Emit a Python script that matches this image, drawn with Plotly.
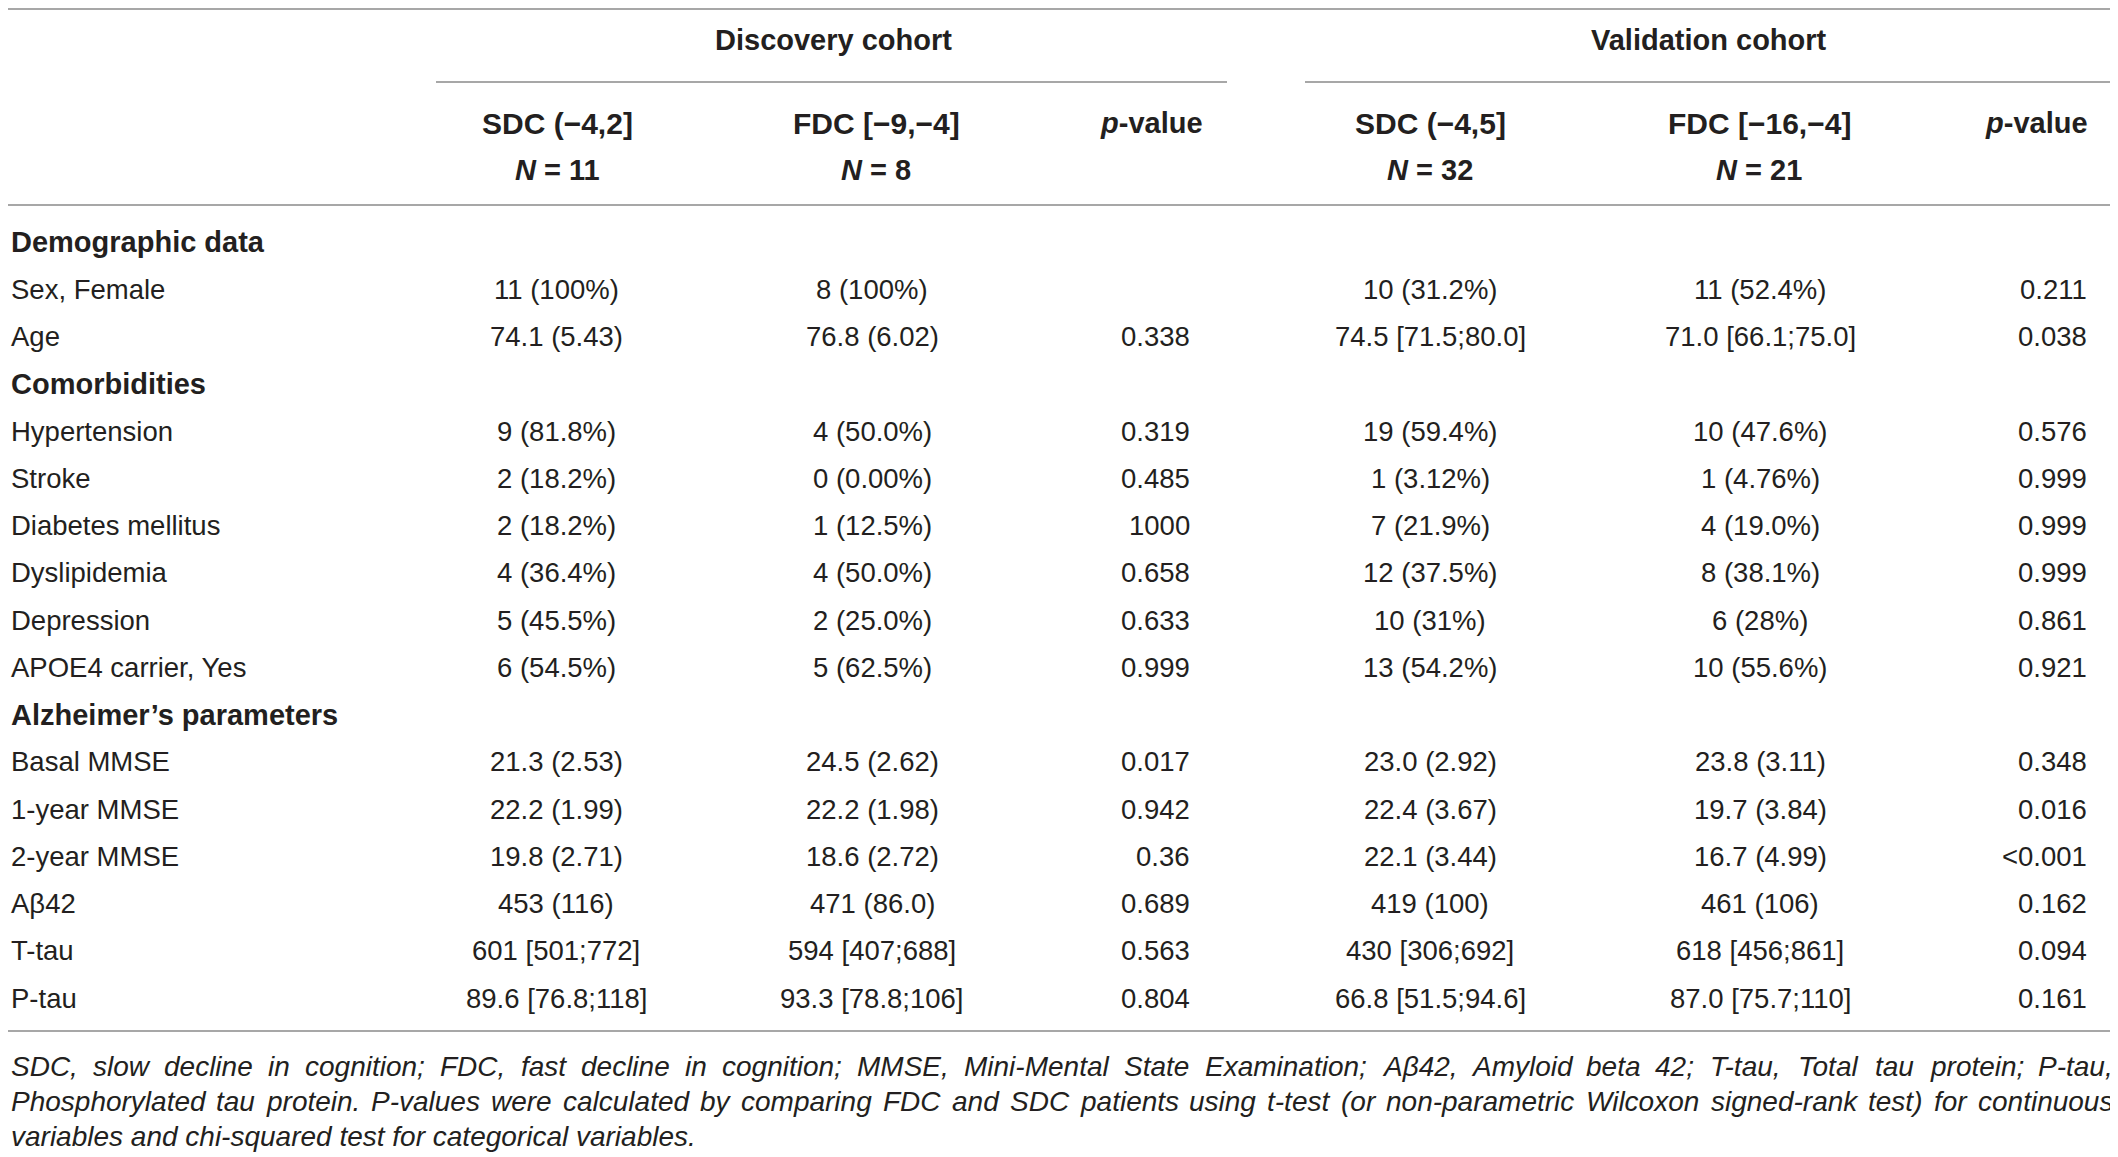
import plotly.graph_objects as go

# ---------------- data ----------------
row_labels = ["Demographic data", "Sex, Female", "Age", "Comorbidities", "Hypertension",
              "Stroke", "Diabetes mellitus", "Dyslipidemia", "Depression",
              "APOE4 carrier, Yes", "Alzheimer’s parameters", "Basal MMSE",
              "1-year MMSE", "2-year MMSE", "Aβ42", "T-tau", "P-tau"]
is_section = [True, False, False, True, False, False, False, False, False, False,
              True, False, False, False, False, False, False]
disc_sdc = ["", "11 (100%)", "74.1 (5.43)", "", "9 (81.8%)", "2 (18.2%)", "2 (18.2%)",
            "4 (36.4%)", "5 (45.5%)", "6 (54.5%)", "", "21.3 (2.53)", "22.2 (1.99)",
            "19.8 (2.71)", "453 (116)", "601 [501;772]", "89.6 [76.8;118]"]
disc_fdc = ["", "8 (100%)", "76.8 (6.02)", "", "4 (50.0%)", "0 (0.00%)", "1 (12.5%)",
            "4 (50.0%)", "2 (25.0%)", "5 (62.5%)", "", "24.5 (2.62)", "22.2 (1.98)",
            "18.6 (2.72)", "471 (86.0)", "594 [407;688]", "93.3 [78.8;106]"]
disc_p = ["", "", "0.338", "", "0.319", "0.485", "1000", "0.658", "0.633", "0.999", "",
          "0.017", "0.942", "0.36", "0.689", "0.563", "0.804"]
val_sdc = ["", "10 (31.2%)", "74.5 [71.5;80.0]", "", "19 (59.4%)", "1 (3.12%)", "7 (21.9%)",
           "12 (37.5%)", "10 (31%)", "13 (54.2%)", "", "23.0 (2.92)", "22.4 (3.67)",
           "22.1 (3.44)", "419 (100)", "430 [306;692]", "66.8 [51.5;94.6]"]
val_fdc = ["", "11 (52.4%)", "71.0 [66.1;75.0]", "", "10 (47.6%)", "1 (4.76%)", "4 (19.0%)",
           "8 (38.1%)", "6 (28%)", "10 (55.6%)", "", "23.8 (3.11)", "19.7 (3.84)",
           "16.7 (4.99)", "461 (106)", "618 [456;861]", "87.0 [75.7;110]"]
val_p = ["", "0.211", "0.038", "", "0.576", "0.999", "0.999", "0.999", "0.861", "0.921", "",
         "0.348", "0.016", "<0.001", "0.162", "0.094", "0.161"]

group_titles = ["Discovery cohort", "Validation cohort"]
col_heads = ["SDC (−4,2]", "FDC [−9,−4]", "p-value", "SDC (−4,5]", "FDC [−16,−4]", "p-value"]
col_ns = ["11", "8", "", "32", "21", ""]

footnote = [
    "SDC, slow decline in cognition; FDC, fast decline in cognition; MMSE, Mini-Mental State Examination; Aβ42, Amyloid beta 42; T-tau, Total tau protein; P-tau,",
    "Phosphorylated tau protein. P-values were calculated by comparing FDC and SDC patients using t-test (or non-parametric Wilcoxon signed-rank test) for continuous",
    "variables and chi-squared test for categorical variables.",
]

# ---------------- layout constants (page pixels) ----------------
W, H = 2118, 1157
OFF = 8            # body margin of the page: axis value == page pixel
TXT = "#231f20"
LINE = "#8a8a8a"
FONT = "Liberation Sans, Arial, sans-serif"
FS = 27.5
FS_BOLD = 29
FS_HEAD = 30
FS_NOTE = 28

label_x = 8.5
col_x = [556, 872, 1192, 1430, 1760, 2089]
col_anchor = ["center", "center", "right", "center", "center", "right"]
head_x = [557, 876, 1151, 1430, 1759, 2036]
group_x = [833, 1709]
group_y = 40
head_y1, head_y2 = 123, 170
row_y0, row_dy = 242, 47.25
note_y0, note_dy = 1066, 35
note_left, note_right = 8.5, 2111

annotations = []


def ann(x, y, text, anchor="left", size=FS, color=TXT):
    annotations.append(dict(x=x, y=y, xref="x", yref="y", text=text,
                            showarrow=False, xanchor=anchor, yanchor="middle",
                            font=dict(family=FONT, size=size, color=color)))


def esc(s):
    return s.replace("&", "&amp;").replace("<", "&lt;").replace(">", "&gt;")


# group titles
for gx, gt in zip(group_x, group_titles):
    ann(gx, group_y, f"<b>{gt}</b>", "center", FS_BOLD)

# column headers
for hx, h, n in zip(head_x, col_heads, col_ns):
    if h == "p-value":
        ann(hx, head_y1, "<b><i>p</i>-value</b>", "center", FS_BOLD)
    else:
        ann(hx, head_y1, f"<b>{h}</b>", "center", FS_HEAD)
        ann(hx, head_y2, f"<b><i>N</i> = {n}</b>", "center", FS_BOLD)

# body rows
columns = [disc_sdc, disc_fdc, disc_p, val_sdc, val_fdc, val_p]
for i, lab in enumerate(row_labels):
    y = row_y0 + i * row_dy
    if is_section[i]:
        ann(label_x, y, f"<b>{lab}</b>", "left", FS_BOLD)
    else:
        ann(label_x, y, lab, "left")
    for cx, anc, col in zip(col_x, col_anchor, columns):
        if col[i]:
            ann(cx, y, esc(col[i]), anc)

# footnote (justified lines via approximate glyph widths)
widths = {' ': 278, '!': 278, '(': 333, ')': 333, ',': 278, '-': 333, '.': 278, ';': 278,
          ':': 278, 'β': 575}
for d in "0123456789":
    widths[d] = 556
upper = dict(A=667, B=667, C=722, D=722, E=667, F=611, G=778, H=722, I=278, J=500, K=667,
             L=556, M=833, N=722, O=778, P=667, Q=778, R=722, S=667, T=611, U=722, V=667,
             W=944, X=667, Y=667, Z=611)
lower = dict(a=556, b=556, c=500, d=556, e=556, f=278, g=556, h=556, i=222, j=222, k=500,
             l=222, m=833, n=556, o=556, p=556, q=556, r=333, s=500, t=278, u=556, v=500,
             w=722, x=500, y=500, z=500)
widths.update(upper)
widths.update(lower)


def text_w(s, size):
    return sum(widths.get(c, 556) for c in s) * size / 1000.0


for li, line in enumerate(footnote):
    y = note_y0 + li * note_dy
    if li < len(footnote) - 1:
        words = line.split(" ")
        ws = [text_w(w, FS_NOTE) for w in words]
        gap = (note_right - note_left - sum(ws)) / (len(words) - 1)
        x = note_left
        for w, ww in zip(words, ws):
            ann(x, y, f"<i>{esc(w)}</i>", "left", FS_NOTE)
            x += ww + gap
    else:
        ann(note_left, y, f"<i>{esc(line)}</i>", "left", FS_NOTE)

# rules
shapes = []


def hline(x0, x1, y):
    shapes.append(dict(type="line", xref="x", yref="y", x0=x0, x1=x1,
                       y0=y, y1=y, line=dict(color=LINE, width=1.6)))


hline(0, W + OFF, 9)
hline(436, 1227, 82)
hline(1305, 2111, 82)
hline(0, W + OFF, 205)
hline(0, W + OFF, 1031)

fig = go.Figure()
fig.add_trace(go.Scatter(x=[OFF, W + OFF], y=[OFF, H + OFF], mode="markers",
                         marker=dict(opacity=0), hoverinfo="skip", showlegend=False))
fig.update_layout(
    width=W, height=H, margin=dict(l=0, r=0, t=0, b=0),
    paper_bgcolor="white", plot_bgcolor="white",
    xaxis=dict(range=[OFF, W + OFF], visible=False, fixedrange=True),
    yaxis=dict(range=[H + OFF, OFF], visible=False, fixedrange=True),
    annotations=annotations, shapes=shapes, showlegend=False,
)
fig.write_html("out.html")
